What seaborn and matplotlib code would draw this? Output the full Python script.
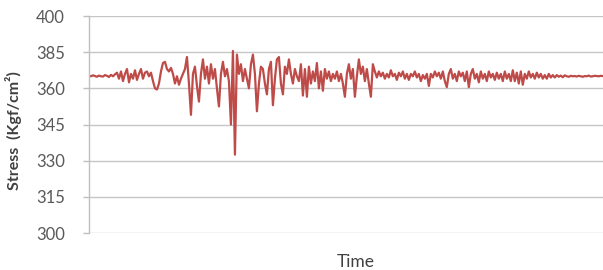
"""Stress over time, recreated with seaborn."""
import matplotlib
matplotlib.use('Agg')
import matplotlib.pyplot as plt
import numpy as np
import seaborn as sns

# Stress readings (Kgf/cm^2), one sample per time step
stress = [
    365.2, 365.0, 365.4, 365.1, 364.8, 365.3, 365.0, 364.9, 365.5, 365.2,
    364.7, 365.6, 365.0, 365.8,
    366.5, 364.0, 367.0, 363.0, 366.0, 368.0, 362.5, 366.0, 364.0, 367.5,
    363.5, 366.0, 368.0, 364.0, 366.5, 367.0, 365.0, 366.5,
    363.0, 360.0, 359.5, 362.0, 367.0, 370.5, 371.0, 368.0, 367.0,
    368.5, 366.0, 362.0, 365.0, 361.5, 364.0, 366.0, 368.0,
    373.0, 362.0, 349.0, 366.0, 369.0, 361.0, 354.5,
    366.0, 372.0, 364.0, 369.0, 362.0, 370.0, 364.0, 368.0, 360.0,
    352.5, 366.0, 371.0, 365.0, 368.0, 363.0, 345.0, 375.5,
    332.5, 374.0, 366.0, 370.0, 363.0, 368.0, 364.0, 360.0, 370.0, 374.0,
    366.0, 350.5, 362.0, 369.0, 368.0, 362.0, 357.5, 368.0, 371.0, 353.0,
    364.0, 372.0, 373.0, 362.0, 357.5, 369.0, 366.0, 372.0, 366.0, 362.0,
    368.0, 365.0, 363.0, 370.0, 357.0, 368.0, 356.5, 369.0, 362.0, 367.0,
    363.0, 370.5, 360.0, 367.0, 359.0, 368.0, 364.0, 367.0, 363.0, 366.0,
    364.0, 367.0, 363.0, 366.0, 362.0, 356.5, 366.0, 370.0, 364.0, 368.0,
    356.5, 365.0, 372.0, 366.0, 369.0, 363.0, 368.0, 362.0, 356.5, 370.0,
    367.0, 364.5, 367.0, 365.0, 366.5, 364.0, 366.0, 364.5, 367.5, 365.0,
    366.0, 363.5, 366.5, 365.0, 367.0, 364.0, 366.0, 363.5, 366.0, 365.0,
    367.0, 364.5, 366.0, 363.0, 365.5, 364.0, 366.0, 361.0, 366.0, 364.5,
    367.0, 365.0, 366.5, 364.0, 367.0, 363.0, 360.5, 366.0, 368.0, 364.0,
    366.0, 363.0, 367.0, 365.0, 366.5, 363.0, 367.0, 360.5, 366.0, 368.0,
    364.0, 366.0, 362.5, 367.0, 364.0, 366.0, 363.0, 367.0, 364.5, 366.0,
    363.5, 366.5, 364.0, 366.0, 363.0, 367.0, 364.0, 366.0, 363.0, 367.5,
    363.0, 366.5, 362.0, 367.0, 361.5, 366.0, 364.0, 367.0, 364.5, 366.0,
    364.0, 366.5, 364.5, 366.0, 364.0, 365.5, 364.0, 366.0, 364.5, 365.5,
    364.5, 365.5, 364.8, 365.3, 364.6, 365.4, 365.0, 364.8, 365.2, 365.0,
    365.1, 364.9, 365.2, 365.0, 364.8, 365.1, 365.0, 365.3, 364.9, 365.0,
    365.2, 365.1, 365.0, 365.2, 365.1,
]
time = np.arange(len(stress))

# Axis ticks (positions are linear, labels as printed on the original chart)
ytick_values = [300, 315, 330, 345, 360, 375, 390]
ytick_labels = ['300', '315', '330', '345', '360', '385', '400']

sns.set_style('white')
plt.rcParams['font.family'] = ['Lato', 'DejaVu Sans']

fig = plt.figure(figsize=(6.03, 2.70), dpi=100)
axes = fig.add_axes([0.1476, 0.137, 0.852, 0.8037])

sns.lineplot(x=time, y=stress, color='#be4b48', linewidth=1.6, ax=axes)

axes.set_xlim(time[0], time[-1])
axes.set_ylim(300, 390)
axes.set_yticks(ytick_values)
axes.set_yticklabels(ytick_labels)
axes.set_xticks([])

axes.grid(axis='y', color='#c6c6c6', linewidth=1.0)
axes.set_axisbelow(True)
for side in ['top', 'right', 'bottom']:
    axes.spines[side].set_visible(False)
axes.spines['left'].set_color('#bfbfbf')
axes.spines['left'].set_linewidth(1.0)

axes.tick_params(axis='y', which='both', left=True, length=4.5, width=1.0,
                 color='#bfbfbf', pad=13, labelsize=12, labelcolor='#595959')

axes.set_ylabel('Stress  (Kgf/cm²)', fontsize=11.5, fontweight='bold', color='#404040')
axes.yaxis.set_label_coords(-0.131, 0.47)
axes.set_xlabel('Time', fontsize=12.5, color='#404040')
axes.xaxis.set_label_coords(0.52, -0.095)

fig.savefig('out.png', dpi=100)
